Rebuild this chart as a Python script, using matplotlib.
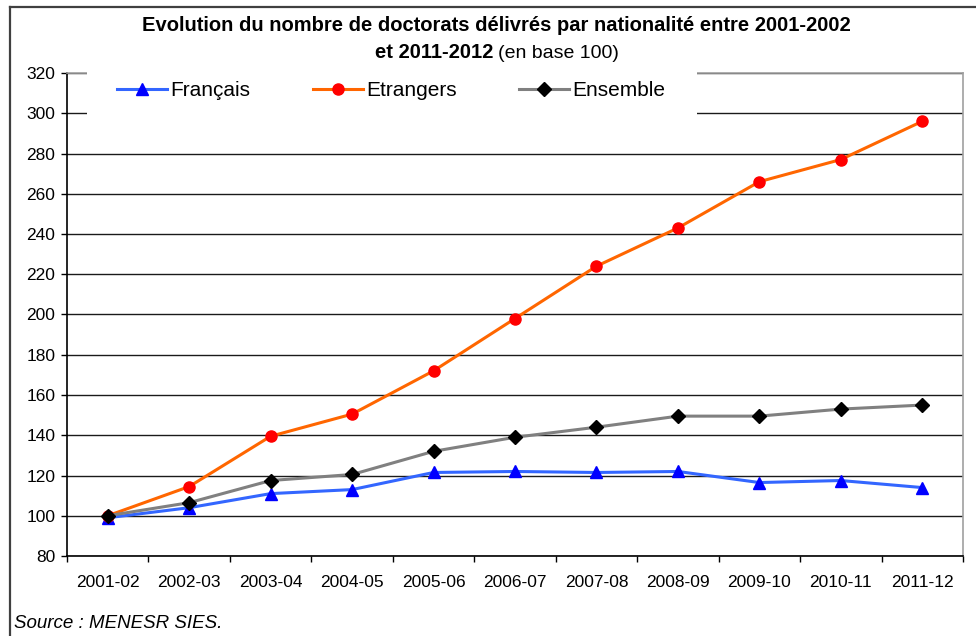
import matplotlib
matplotlib.use('Agg')
import matplotlib.pyplot as plt
from matplotlib.patches import Rectangle
from matplotlib.lines import Line2D

categories = ['2001-02', '2002-03', '2003-04', '2004-05', '2005-06', '2006-07',
              '2007-08', '2008-09', '2009-10', '2010-11', '2011-12']
francais = [99, 104, 111, 113, 121.5, 122, 121.5, 122, 116.5, 117.5, 114]
etrangers = [100, 114.5, 139.5, 150.5, 172, 198, 224, 243, 266, 277, 296]
ensemble = [100, 106.5, 117.5, 120.5, 132, 139, 144, 149.5, 149.5, 153, 155]
yticks = list(range(80, 321, 20))
series_names = ['Français', 'Etrangers', 'Ensemble']

plt.rcParams['font.family'] = ['Liberation Sans', 'DejaVu Sans']

W, H = 976, 636
fig = plt.figure(figsize=(W / 100, H / 100), dpi=100)
fig.patch.set_facecolor('white')

# plot area in pixels: left 67, right 963, top 73, bottom 556
ax = fig.add_axes([67 / W, (H - 556) / H, (963 - 67) / W, (556 - 73) / H])
x = list(range(len(categories)))

ax.plot(x, francais, color='#3366FF', lw=2.2, marker='^', ms=9,
        mfc='#0000FF', mec='#0000FF', label=series_names[0], zorder=4)
ax.plot(x, etrangers, color='#FF6600', lw=2.2, marker='o', ms=8,
        mfc='#FF0000', mec='#FF0000', label=series_names[1], zorder=5)
ax.plot(x, ensemble, color='#808080', lw=2.2, marker='D', ms=7,
        mfc='black', mec='black', label=series_names[2], zorder=6)

ax.set_xlim(-0.5, len(categories) - 0.5)
ax.set_ylim(80, 320)
ax.set_yticks(yticks)
ax.set_yticklabels([str(v) for v in yticks], fontsize=12.5)
ax.set_xticks(x)
ax.set_xticklabels(categories, fontsize=12.5)
ax.set_xticks([i - 0.5 for i in range(len(categories) + 1)], minor=True)
ax.tick_params(axis='x', which='major', length=0, pad=14)
ax.tick_params(axis='x', which='minor', length=4.3, width=1.0, color='black', direction='out')
ax.tick_params(axis='y', which='major', length=4.3, width=1.0, color='black', direction='out', pad=4)

ax.yaxis.grid(True, color='#1a1a1a', lw=1.0)
ax.set_axisbelow(True)
for s in ['left', 'bottom']:
    ax.spines[s].set_color('black')
    ax.spines[s].set_linewidth(1.2)
for s in ['top', 'right']:
    ax.spines[s].set_color('#A0A0A0')
    ax.spines[s].set_linewidth(1.2)

# white legend backdrop covering gridlines
x0 = (87 - 67) / (963 - 67)
x1 = (697 - 67) / (963 - 67)
y0 = (556 - 120) / (556 - 73)
ax.add_patch(Rectangle((x0, y0), x1 - x0, 1.02 - y0, transform=ax.transAxes,
                       facecolor='white', edgecolor='none', zorder=3, clip_on=False))

leg = ax.legend(loc='center left', bbox_to_anchor=((117 - 67) / 896, (556 - 91) / 483),
                ncol=3, frameon=False, fontsize=15, handlelength=2.4,
                handletextpad=0.15, columnspacing=3.0, borderpad=0, borderaxespad=0)
leg.set_zorder(7)

# title
fig.text(496 / W, 1 - 31 / H,
         'Evolution du nombre de doctorats délivrés par nationalité entre 2001-2002',
         ha='center', va='baseline', fontsize=14.5, fontweight='bold')
r = fig.canvas.get_renderer()
t1 = fig.text(0, 1 - 58 / H, 'et 2011-2012', ha='left', va='baseline',
              fontsize=14.5, fontweight='bold')
t2 = fig.text(0, 1 - 58 / H, '(en base 100)', ha='left', va='baseline', fontsize=14)
w1 = t1.get_window_extent(r).width
w2 = t2.get_window_extent(r).width
gap = 5
start = 497 - (w1 + gap + w2) / 2
t1.set_x(start / W)
t2.set_x((start + w1 + gap) / W)

# source
fig.text(14 / W, 1 - 628 / H, 'Source : MENESR SIES.', ha='left', va='baseline',
         fontsize=13.5, fontstyle='italic')

# outer frame (top and left visible)
fig.add_artist(Line2D([10 / W, 10 / W], [0, 1 - 7 / H], transform=fig.transFigure,
                      color='#404040', lw=1.6))
fig.add_artist(Line2D([10 / W, 1], [1 - 7 / H, 1 - 7 / H], transform=fig.transFigure,
                      color='#404040', lw=1.6))

fig.savefig('out.png', dpi=100, facecolor='white')
